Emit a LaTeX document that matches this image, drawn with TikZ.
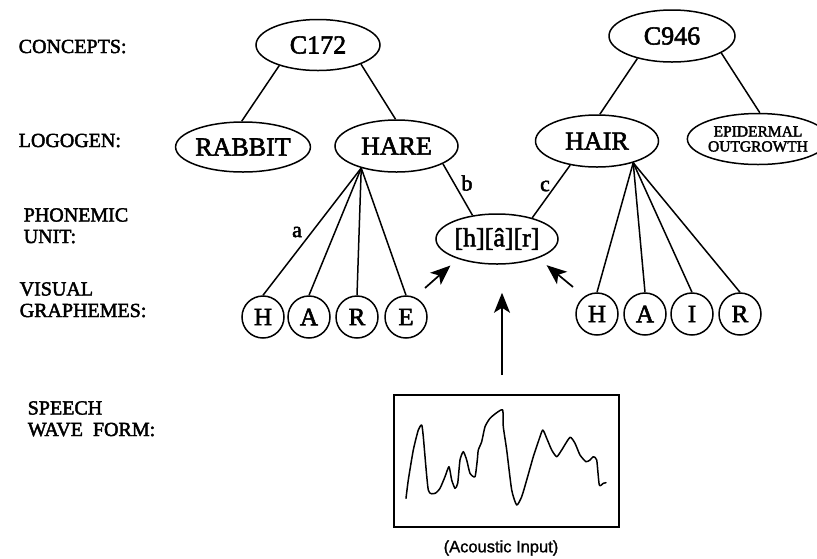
\documentclass[tikz,border=0pt]{standalone}
\usepackage{fontspec}
\setmainfont{Liberation Serif}[FakeBold=2.2]
\newfontfamily\captionsans{Liberation Sans}[FakeBold=1.2]
\usetikzlibrary{shapes.geometric,arrows.meta}

\begin{document}
\begin{tikzpicture}[x=1pt,y=-1pt,
  line width=1.5pt,
  levellabel/.style={anchor=base west,inner sep=0pt,align=left,
    font=\fontsize{20}{21.5}\selectfont},
  wordnode/.style={draw,ellipse,inner sep=0pt,line width=1.5pt,
    font=\fontsize{26}{28}\selectfont},
  grapheme/.style={draw,circle,minimum size=42pt,inner sep=0pt,line width=1.5pt,
    font=\fontsize{25}{27}\selectfont},
  linklabel/.style={inner sep=0pt,font=\fontsize{22}{24}\selectfont},
  arr/.style={-{Stealth[length=20pt,width=16pt,inset=5pt]},line width=1.7pt}]

\useasboundingbox (0,0) rectangle (817,558);

% level labels
\node[levellabel] (lconcepts) at (18,53) {CONCEPTS:};
\node[levellabel] (llogogen) at (18,147) {LOGOGEN:};
\node[levellabel] (lphonemic) at (23,243) {PHONEMIC\\UNIT:};
\node[levellabel] (lvisual) at (19,317) {VISUAL\\GRAPHEMES:};
\node[levellabel] (lspeech) at (27,436) {SPEECH\\WAVE\hspace{0.25em} FORM:};

% concept nodes
\node[wordnode,minimum width=124pt,minimum height=51pt] (c172) at (318,45) {C172};
\node[wordnode,minimum width=126pt,minimum height=52pt] (c946) at (672,36) {C946};

% logogen nodes
\node[wordnode,minimum width=120pt,minimum height=50pt] (rabbit) at (243,147) {RABBIT};
\node[wordnode,minimum width=123pt,minimum height=52pt] (hare) at (396.5,146) {HARE};
\node[wordnode,minimum width=123pt,minimum height=52pt] (hair) at (597,141) {HAIR};
\node[wordnode,minimum width=118pt,minimum height=51pt,align=center,
  font=\fontsize{15.5}{15}\selectfont] (epid) at (758,139) {EPIDERMAL\\OUTGROWTH};

% phonemic unit
\node[wordnode,minimum width=122pt,minimum height=50pt] (phon) at (497,239) {[h][â][r]};

% graphemes of HARE
\node[grapheme] (h1) at (263,317) {H};
\node[grapheme] (a1) at (309,317) {A};
\node[grapheme] (r1) at (357,317) {R};
\node[grapheme] (e1) at (406,317) {E};

% graphemes of HAIR
\node[grapheme] (h2) at (597,314) {H};
\node[grapheme] (a2) at (645,314) {A};
\node[grapheme] (i2) at (692,314) {I};
\node[grapheme] (r2) at (740,314) {R};

% concept to logogen links
\draw (c172.208) -- (rabbit.93);
\draw (c172.336) -- (hare.92);
\draw (c946.213) -- (hair.84);
\draw (c946.341) -- (epid.86);

% logogen to grapheme fans
\foreach \g in {h1,a1,r1,e1} \draw (hare.212) -- (\g.north);
\foreach \g in {h2,a2,i2,r2} \draw (hair.329) -- (\g.north);

% logogen to phonemic unit
\draw (hare.339) -- (phon.136);
\draw (hair.222) -- (phon.31);

% link labels
\node[linklabel] (la) at (297,232) {a};
\node[linklabel] (lb) at (467,183) {b};
\node[linklabel] (lc) at (545,186) {c};

% speech wave form
\node[draw,rectangle,minimum width=225pt,minimum height=132pt,inner sep=0pt,
  line width=1.5pt] (wave) at (506.5,461) {};
\draw[line width=1.5pt,line join=round,line cap=round] plot[smooth,tension=0.35] coordinates {
  (406,498.3) (408.3,480) (413.3,450) (418.3,430) (421.7,425) (423.3,436.7)
  (428.3,490) (435,493.3) (440,488.3) (445,476.7) (449,466.7) (451.7,480)
  (455,488.3) (457.7,483.3) (460,460) (463.3,451.7) (466.7,460) (470,473.3)
  (475,476.7) (477.3,460) (478.3,450) (481.7,441.7) (485,426.7) (490,418.3)
  (496.7,412.7) (502.7,410) (503.3,426.7) (506.7,450) (511.7,490) (516.7,505)
  (521.7,496.7) (526.7,480) (533.3,456.7) (538.3,441.7) (542.7,430) (546.7,438.3)
  (551.7,450) (556.7,456.7) (561.7,450) (570,437.3) (575,443.3) (580,455)
  (586,461.7) (590,460) (593.3,456.7) (596.7,460) (599.3,485) (603.3,483.3)
  (606,482.7)};
\node[inner sep=0pt,font=\captionsans\fontsize{16.5}{18}\selectfont] (acoustic)
  at (501,548) {(Acoustic Input)};

% input arrows into the phonemic unit
\coordinate (fromleft) at (425,288);
\coordinate (fromright) at (573,287);
\coordinate (fromwave) at (502,375);
\draw[arr,shorten >=10pt] (fromleft) -- (phon.207);
\draw[arr,shorten >=11pt] (fromright) -- (phon.335);
\draw[arr,shorten >=28pt] (fromwave) -- (fromwave |- phon.south);

\end{tikzpicture}
\end{document}
